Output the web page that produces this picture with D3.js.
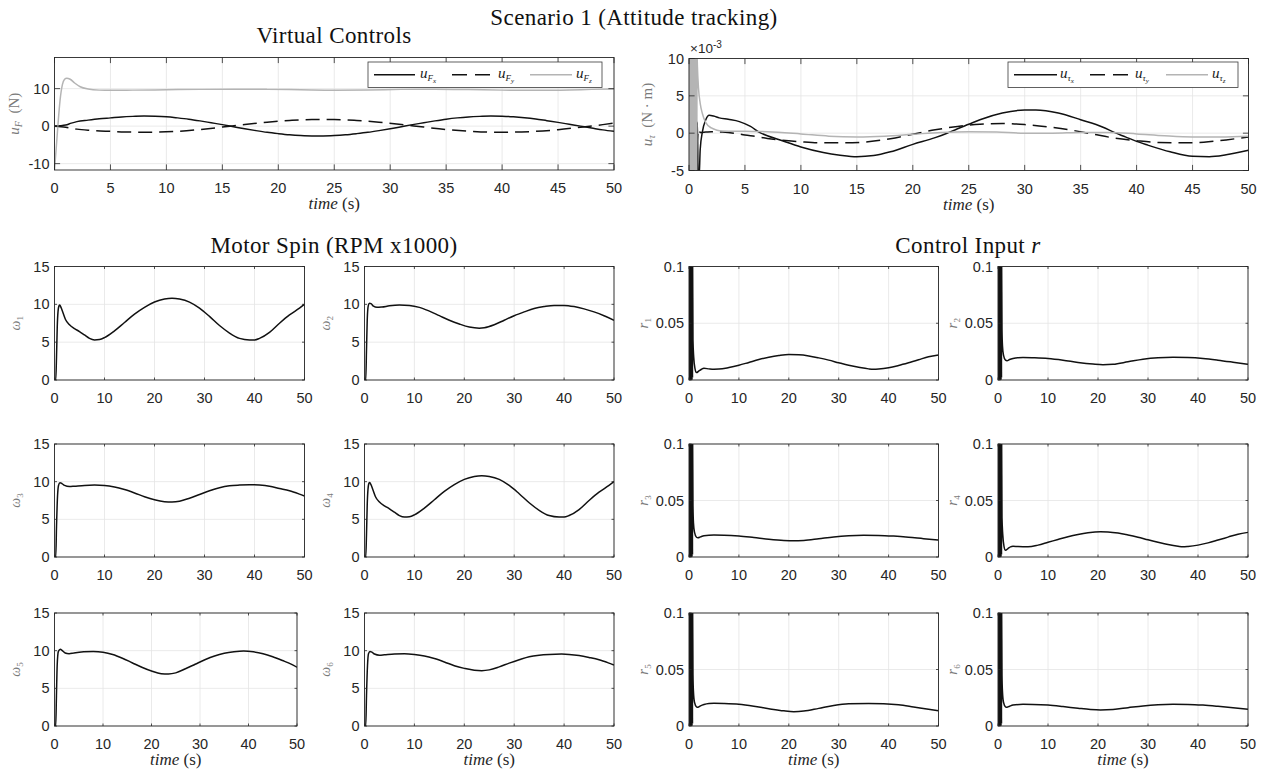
<!DOCTYPE html>
<html>
<head>
<meta charset="utf-8">
<script src="https://cdn.jsdelivr.net/npm/d3@7"></script>
<style>
  body { margin: 0; background: #fff; }
  svg { display: block; }
  text { white-space: pre; }
</style>
</head>
<body>
<svg id="fig" width="1268" height="771"></svg>
<script>
// ---------- tick values ----------
const xTicksTop = [0, 5, 10, 15, 20, 25, 30, 35, 40, 45, 50];
const xTicksSmall = [0, 10, 20, 30, 40, 50];
const yTicksForce = [-10, 0, 10];
const yTicksTorque = [-5, 0, 5, 10];
const yTicksOmega = [0, 5, 10, 15];
const yTicksR = [0, 0.05, 0.1];

// ---------- virtual force (N) ----------
const uFx = [[0,0],[0.5,0.1],[1,0.3],[1.5,0.8],[2,1.2],[3,1.6],[4,1.95],[5,2.2],[6,2.45],[7,2.6],[8,2.7],[9,2.65],[10,2.5],[11,2.2],[12,1.85],[13,1.4],[14,0.9],[15,0.4],[16,-0.15],[17,-0.7],[18,-1.2],[19,-1.65],[20,-2.0],[21,-2.3],[22,-2.5],[23,-2.6],[24,-2.6],[25,-2.5],[26,-2.3],[27,-2.0],[28,-1.65],[29,-1.2],[30,-0.7],[31,-0.15],[32,0.4],[33,0.9],[34,1.4],[35,1.85],[36,2.2],[37,2.45],[38,2.6],[39,2.7],[40,2.65],[41,2.5],[42,2.25],[43,1.9],[44,1.45],[45,1.0],[46,0.5],[47,0.0],[48,-0.5],[49,-1.0],[50,-1.4]];
const uFy = [[0,0],[1,-0.3],[2,-0.8],[3,-1.1],[5,-1.4],[7,-1.6],[9,-1.6],[11,-1.4],[13,-0.9],[15,-0.25],[17,0.45],[19,1.05],[21,1.5],[23,1.75],[25,1.75],[27,1.5],[29,1.05],[31,0.45],[33,-0.25],[35,-0.9],[37,-1.35],[39,-1.6],[41,-1.6],[43,-1.4],[45,-0.95],[47,-0.3],[49,0.4],[50,0.8]];
const uFz = [[0,-11.7],[0.15,-6],[0.3,0],[0.5,7],[0.7,11],[0.9,12.5],[1.1,12.8],[1.4,12.5],[1.8,11.5],[2.3,10.5],[3,9.9],[4,9.6],[5,9.55],[7,9.6],[10,9.7],[13,9.8],[16,9.85],[19,9.8],[22,9.7],[25,9.6],[28,9.65],[31,9.8],[34,9.85],[37,9.75],[40,9.6],[43,9.55],[46,9.65],[48,9.8],[50,9.9]];

// ---------- virtual torque (x 1e-3 N·m) ----------
const uTx = [[0.68,-6],[0.75,1.5],[0.82,-6],[0.9,-6],[1.0,-2.2],[1.2,0.2],[1.5,1.8],[1.8,2.4],[2.2,2.3],[2.7,2.05],[3.5,1.85],[4.5,1.55],[5.5,0.9],[6.3,0.1],[7,-0.35],[8,-0.85],[10,-1.85],[12,-2.6],[13.5,-2.95],[15,-3.15],[16.5,-3.0],[18,-2.5],[20,-1.5],[22,-0.6],[23,-0.05],[24,0.6],[25,1.2],[26,1.8],[28,2.7],[30,3.1],[31,3.1],[33,2.7],[35,1.8],[37,0.8],[38,0.1],[39,-0.5],[40,-1.1],[41,-1.6],[43,-2.5],[45,-3.1],[46.5,-3.15],[48,-2.9],[50,-2.3]];
const uTy = [[0.7,-2],[0.85,0.5],[1,0.1],[1.5,0.15],[2,0.2],[3,0.15],[4,0],[5,-0.25],[6,-0.45],[7,-0.7],[8,-0.9],[10,-1.15],[12,-1.3],[14,-1.3],[16,-1.15],[18,-0.75],[20,-0.15],[22,0.45],[24,0.9],[26,1.2],[28,1.3],[30,1.15],[32,0.85],[34,0.45],[36,-0.1],[38,-0.65],[40,-1.0],[42,-1.25],[44,-1.3],[46,-1.2],[48,-0.9],[50,-0.5]];
const uTzBurst = [[0,10.5],[0.03,-5.5],[0.06,10.5],[0.09,-5.5],[0.12,10.5],[0.15,-5.5],[0.18,10.5],[0.21,-5.5],[0.24,10.5],[0.27,-5.5],[0.3,10.5],[0.33,-5.5],[0.36,10.5],[0.39,-5.5],[0.42,10.5],[0.45,-5.5],[0.48,10.5],[0.51,-5.5],[0.54,10.5],[0.57,-5.5],[0.6,10.5],[0.63,-5.5],[0.66,10.5],[0.69,-5.5],[0.72,10.5]];
const uTz = [[0.75,9],[0.85,6],[1.0,4],[1.2,2.6],[1.5,1.4],[2,0.7],[2.5,0.4],[3,0.3],[5,0.25],[7,0.2],[10,-0.1],[12.5,-0.4],[15,-0.5],[17.5,-0.4],[20,-0.15],[22.5,0.1],[25,0.2],[27.5,0.15],[30,0.0],[32.5,0.0],[35,0.1],[37.5,0.1],[40,-0.1],[42.5,-0.35],[45,-0.5],[47.5,-0.5],[50,-0.4]];

// ---------- motor spin (RPM x1000) ----------
const w1 = [[0,0],[0.25,0],[0.4,3],[0.55,7],[0.7,9],[0.9,9.8],[1.05,9.9],[1.3,9.6],[1.7,8.9],[2.2,8.0],[3,7.3],[4,6.8],[5,6.4],[6,5.95],[7,5.5],[8,5.3],[9,5.35],[10,5.6],[12,6.5],[14,7.6],[16,8.7],[18,9.6],[20,10.3],[22,10.7],[23.5,10.8],[25,10.7],[27,10.3],[29,9.5],[31,8.4],[33,7.2],[35,6.2],[37,5.5],[39,5.3],[40,5.3],[41,5.5],[43,6.3],[45,7.5],[47,8.6],[49,9.5],[50,10]];
const w2 = [[0,0],[0.25,0],[0.4,4],[0.55,8],[0.75,9.8],[1.0,10.15],[1.3,10.1],[1.8,9.75],[2.5,9.6],[3.5,9.65],[5,9.8],[7,9.9],[9,9.85],[11,9.6],[13,9.1],[15,8.5],[17,7.9],[19,7.4],[21,7.0],[23,6.85],[24,6.9],[26,7.3],[28,7.9],[30,8.5],[32,9.0],[34,9.45],[36,9.7],[38,9.85],[40,9.85],[42,9.7],[44,9.4],[46,9.0],[48,8.5],[50,7.9]];
const w3 = [[0,0],[0.25,0],[0.4,4],[0.6,8],[0.8,9.5],[1.1,9.85],[1.5,9.75],[2,9.5],[3,9.35],[4,9.4],[6,9.5],[8,9.55],[10,9.5],[12,9.3],[14,8.95],[16,8.5],[18,8.0],[20,7.6],[22,7.35],[23.5,7.3],[25,7.4],[27,7.8],[29,8.3],[31,8.8],[33,9.2],[35,9.45],[37,9.55],[39,9.6],[41,9.55],[43,9.4],[45,9.1],[47,8.8],[49,8.35],[50,8.1]];
const w4 = [[0,0],[0.25,0],[0.4,3],[0.55,7],[0.7,9],[0.9,9.8],[1.05,9.9],[1.3,9.6],[1.7,8.9],[2.2,8.0],[3,7.3],[4,6.8],[5,6.4],[6,5.95],[7,5.5],[8,5.3],[9,5.35],[10,5.6],[12,6.5],[14,7.6],[16,8.7],[18,9.6],[20,10.3],[22,10.7],[23.5,10.8],[25,10.7],[27,10.3],[29,9.5],[31,8.4],[33,7.2],[35,6.2],[37,5.5],[39,5.3],[40,5.3],[41,5.5],[43,6.3],[45,7.5],[47,8.6],[49,9.5],[50,10]];
const w5 = [[0,0],[0.25,0],[0.4,4],[0.55,8],[0.8,9.9],[1.2,10.2],[1.6,10.0],[2.2,9.7],[3,9.6],[4,9.7],[6,9.85],[8,9.9],[10,9.8],[12,9.5],[14,9.0],[16,8.4],[18,7.8],[20,7.3],[22,6.95],[23.5,6.9],[25,7.05],[27,7.6],[29,8.2],[31,8.8],[33,9.3],[35,9.65],[37,9.85],[39,9.95],[41,9.85],[43,9.6],[45,9.2],[47,8.7],[49,8.15],[50,7.8]];
const w6 = [[0,0],[0.25,0],[0.4,4],[0.6,8],[0.8,9.6],[1.1,9.9],[1.5,9.8],[2,9.55],[3,9.4],[4,9.45],[6,9.55],[8,9.6],[10,9.5],[12,9.3],[14,8.95],[16,8.5],[18,8.0],[20,7.65],[22,7.4],[23.5,7.35],[25,7.45],[27,7.85],[29,8.35],[31,8.8],[33,9.2],[35,9.4],[37,9.5],[39.5,9.55],[41,9.5],[43,9.35],[45,9.1],[47,8.8],[49,8.35],[50,8.1]];

// ---------- control input r ----------
const rBurst = [[0,0],[0.05,0.12],[0.1,0],[0.15,0.12],[0.2,0],[0.25,0.12],[0.3,0],[0.35,0.12],[0.4,0],[0.45,0.12],[0.5,0],[0.55,0.12],[0.6,0],[0.65,0.12],[0.7,0.002],[0.72,0.11]];
const r1 = [[0.8,0.035],[0.95,0.02],[1.2,0.01],[1.5,0.0065],[2,0.008],[2.5,0.0095],[3,0.0103],[4,0.0098],[5,0.0095],[6,0.0096],[8,0.011],[10,0.013],[12,0.0155],[14,0.018],[16,0.02],[18,0.0215],[20,0.0224],[22,0.0222],[24,0.0212],[26,0.0195],[28,0.0175],[30,0.0152],[32,0.013],[34,0.0112],[36,0.0098],[37,0.0095],[38,0.0097],[40,0.0108],[42,0.0128],[44,0.0152],[46,0.0178],[48,0.0205],[50,0.022]];
const r2 = [[0.8,0.045],[0.9,0.03],[1.1,0.022],[1.5,0.0175],[1.8,0.017],[2.3,0.018],[3,0.019],[4,0.0197],[5,0.0198],[7,0.0196],[10,0.019],[13,0.0175],[16,0.0155],[19,0.014],[21,0.0134],[23,0.0138],[26,0.016],[29,0.0183],[32,0.0196],[35,0.02],[38,0.0198],[41,0.019],[44,0.0175],[47,0.0157],[50,0.0138]];
const r3 = [[0.8,0.045],[0.9,0.03],[1.1,0.022],[1.5,0.0175],[1.8,0.017],[2.3,0.0178],[3,0.0188],[5,0.0194],[7,0.0193],[10,0.0186],[13,0.0172],[16,0.0157],[19,0.0146],[21,0.0143],[23,0.0147],[26,0.0162],[29,0.0178],[32,0.0188],[35,0.0192],[38,0.0191],[41,0.0185],[44,0.0175],[47,0.0162],[50,0.015]];
const r4 = [[0.8,0.035],[0.95,0.02],[1.2,0.0095],[1.5,0.006],[2,0.0075],[2.5,0.009],[3,0.0095],[4,0.0092],[6,0.009],[8,0.0105],[10,0.013],[12,0.0155],[14,0.018],[16,0.02],[18,0.0215],[20.5,0.0224],[22,0.0222],[24,0.0212],[26,0.0195],[28,0.0175],[30,0.0152],[32,0.013],[34,0.011],[36,0.0095],[37,0.009],[38,0.0093],[40,0.0105],[42,0.0125],[44,0.015],[46,0.0176],[48,0.0202],[50,0.0218]];
const r5 = [[0.8,0.045],[0.9,0.03],[1.1,0.021],[1.5,0.017],[1.8,0.0166],[2.3,0.0178],[3,0.019],[4,0.0199],[5,0.0201],[7,0.0199],[10,0.0192],[13,0.0175],[16,0.0153],[19,0.0134],[21,0.0127],[23,0.0132],[26,0.0156],[29,0.0181],[32,0.0196],[36,0.02],[39,0.0197],[42,0.0187],[45,0.0168],[48,0.0148],[50,0.0136]];
const r6 = [[0.8,0.045],[0.9,0.03],[1.1,0.021],[1.5,0.017],[1.8,0.0166],[2.3,0.0175],[3,0.0186],[5,0.0192],[7,0.0191],[10,0.0185],[13,0.0172],[16,0.0157],[18.5,0.0146],[20.5,0.0142],[23,0.0146],[26,0.0162],[29,0.0178],[32,0.0188],[35,0.0192],[38,0.0191],[41,0.0185],[44,0.0174],[47,0.0161],[50,0.0148]];

// ---------- styling ----------
const SANS = "'Liberation Sans', Arial, Helvetica, sans-serif";
const SERIF = "'Liberation Serif', 'Times New Roman', serif";
const AX = '#262626';
const GRID = '#e4e4e4';
const LABEL_GRAY = '#7a7a7a';
const GRAY_LINE = '#b4b4b4';

const svg = d3.select('#fig');
const defs = svg.append('defs');
let clipCount = 0;

// write a run of styled pieces (italic / sub / superscript) into a <text>
function rich(textSel, parts, base) {
  let cur = 0;
  parts.forEach(p => {
    const off = p.off || 0;
    textSel.append('tspan')
      .attr('dy', off - cur)
      .attr('font-size', p.size || base)
      .attr('font-style', p.it ? 'italic' : 'normal')
      .text(p.t);
    cur = off;
  });
}

function fmtTick(v) {
  return String(v).replace('\u2212', '-');
}

function panel(box, cfg) {
  const g = svg.append('g');
  const x = d3.scaleLinear().domain(cfg.xDom).range([box.x0, box.x1]);
  const y = d3.scaleLinear().domain(cfg.yDom).range([box.y1, box.y0]);
  const tickLen = cfg.tickLen;

  // grid
  g.append('g').selectAll('line').data(cfg.xTicks).join('line')
    .attr('x1', d => x(d)).attr('x2', d => x(d))
    .attr('y1', box.y0).attr('y2', box.y1)
    .attr('stroke', GRID).attr('stroke-width', 0.8);
  g.append('g').selectAll('line').data(cfg.yTicks).join('line')
    .attr('y1', d => y(d)).attr('y2', d => y(d))
    .attr('x1', box.x0).attr('x2', box.x1)
    .attr('stroke', GRID).attr('stroke-width', 0.8);

  // series
  const id = 'clip' + (clipCount++);
  defs.append('clipPath').attr('id', id).append('rect')
    .attr('x', box.x0).attr('y', box.y0)
    .attr('width', box.x1 - box.x0).attr('height', box.y1 - box.y0);
  const line = d3.line().x(d => x(d[0])).y(d => y(d[1])).curve(d3.curveMonotoneX);
  const sg = g.append('g').attr('clip-path', `url(#${id})`);
  cfg.series.forEach(s => {
    sg.append('path').attr('d', line(s.data))
      .attr('fill', 'none')
      .attr('stroke', s.color || '#111')
      .attr('stroke-width', s.width || 1.5)
      .attr('stroke-dasharray', s.dash || null)
      .attr('stroke-linejoin', 'round');
  });

  // ticks on all four sides (inward)
  const tk = g.append('g').attr('stroke', AX).attr('stroke-width', 0.8);
  cfg.xTicks.forEach(v => {
    tk.append('line').attr('x1', x(v)).attr('x2', x(v)).attr('y1', box.y1).attr('y2', box.y1 - tickLen);
    tk.append('line').attr('x1', x(v)).attr('x2', x(v)).attr('y1', box.y0).attr('y2', box.y0 + tickLen);
  });
  cfg.yTicks.forEach(v => {
    tk.append('line').attr('y1', y(v)).attr('y2', y(v)).attr('x1', box.x0).attr('x2', box.x0 + tickLen);
    tk.append('line').attr('y1', y(v)).attr('y2', y(v)).attr('x1', box.x1).attr('x2', box.x1 - tickLen);
  });

  // frame
  g.append('rect').attr('x', box.x0).attr('y', box.y0)
    .attr('width', box.x1 - box.x0).attr('height', box.y1 - box.y0)
    .attr('fill', 'none').attr('stroke', AX).attr('stroke-width', 0.9);

  // tick labels
  g.append('g').selectAll('text').data(cfg.xTicks).join('text')
    .attr('x', d => x(d)).attr('y', box.y1 + 23)
    .attr('text-anchor', 'middle')
    .attr('font-family', SANS).attr('font-size', 14.5).attr('fill', AX)
    .text(d => fmtTick(d));
  g.append('g').selectAll('text').data(cfg.yTicks).join('text')
    .attr('x', box.x0 - 5).attr('y', d => y(d) + 5)
    .attr('text-anchor', 'end')
    .attr('font-family', SANS).attr('font-size', 14.5).attr('fill', AX)
    .text(d => cfg.yFmt ? cfg.yFmt(d) : fmtTick(d));

  // y label
  if (cfg.yLabel) {
    const cy = (box.y0 + box.y1) / 2;
    const lx = box.x0 - cfg.yLabelOff;
    const t = g.append('text')
      .attr('transform', `translate(${lx},${cy}) rotate(-90)`)
      .attr('text-anchor', 'middle')
      .attr('font-family', SERIF).attr('fill', LABEL_GRAY);
    rich(t, cfg.yLabel, 15);
  }

  // x label
  if (cfg.xLabel) {
    const t = g.append('text')
      .attr('x', (box.x0 + box.x1) / 2).attr('y', box.y1 + 39)
      .attr('text-anchor', 'middle')
      .attr('font-family', SERIF).attr('fill', AX);
    rich(t, [{ t: 'time', it: true }, { t: ' (s)' }], 17);
  }
  return { x, y, g };
}

function legend(box, items) {
  const g = svg.append('g');
  g.append('rect').attr('x', box.x0).attr('y', box.y0)
    .attr('width', box.x1 - box.x0).attr('height', box.y1 - box.y0)
    .attr('fill', '#fff').attr('stroke', '#3a3a3a').attr('stroke-width', 0.8);
  const cy = (box.y0 + box.y1) / 2;
  items.forEach(it => {
    g.append('line').attr('x1', it.lx0).attr('x2', it.lx1).attr('y1', cy).attr('y2', cy)
      .attr('stroke', it.color).attr('stroke-width', 1.6)
      .attr('stroke-dasharray', it.dash || null);
    const t = g.append('text').attr('x', it.tx).attr('y', cy + 3)
      .attr('font-family', SERIF).attr('fill', '#1a1a1a');
    rich(t, it.label, 15);
  });
}

// ---------- titles ----------
function title(x, y, parts) {
  const t = svg.append('text').attr('x', x).attr('y', y)
    .attr('text-anchor', 'middle').attr('font-family', SERIF).attr('fill', '#111')
    .attr('letter-spacing', 0.4);
  rich(t, parts, 23);
}
title(634, 25, [{ t: 'Scenario 1 (Attitude tracking)' }]);
title(334, 43, [{ t: 'Virtual Controls' }]);
title(334, 253, [{ t: 'Motor Spin (RPM x1000)' }]);
title(968, 253, [{ t: 'Control Input ' }, { t: 'r', it: true }]);

// ---------- virtual controls ----------
const boxF = { x0: 54.5, x1: 614, y0: 57.5, y1: 170 };
panel(boxF, {
  xDom: [0, 50], yDom: [-11.7, 18.3],
  xTicks: xTicksTop, yTicks: yTicksForce, tickLen: 5.6,
  yLabel: [{ t: 'u', it: true }, { t: 'F', it: true, size: 10, off: 3 }, { t: '  (N)', off: 0 }],
  yLabelOff: 36, xLabel: true,
  series: [
    { data: uFx, color: '#111' },
    { data: uFy, color: '#111', dash: '14,7' },
    { data: uFz, color: GRAY_LINE }
  ]
});
legend({ x0: 368, x1: 602, y0: 62, y1: 87.5 }, [
  { lx0: 374, lx1: 415, color: '#111', tx: 420, label: [{ t: 'u', it: true }, { t: 'F', it: true, size: 9, off: 3 }, { t: 'x', it: true, size: 7, off: 5 }] },
  { lx0: 452, lx1: 490, color: '#111', dash: '15,8', tx: 498, label: [{ t: 'u', it: true }, { t: 'F', it: true, size: 9, off: 3 }, { t: 'y', it: true, size: 7, off: 5 }] },
  { lx0: 530, lx1: 572, color: GRAY_LINE, tx: 576, label: [{ t: 'u', it: true }, { t: 'F', it: true, size: 9, off: 3 }, { t: 'z', it: true, size: 7, off: 5 }] }
]);

const boxT = { x0: 689, x1: 1248.5, y0: 58.5, y1: 170.5 };
panel(boxT, {
  xDom: [0, 50], yDom: [-5, 10],
  xTicks: xTicksTop, yTicks: yTicksTorque, tickLen: 5.6,
  yLabel: [{ t: 'u', it: true }, { t: 'τ', it: true, size: 10, off: 3 }, { t: '  (N · m)', off: 0 }],
  yLabelOff: 37, xLabel: true,
  series: [
    { data: uTx, color: '#111' },
    { data: uTy, color: '#111', dash: '14,7' },
    { data: uTzBurst.concat(uTz), color: GRAY_LINE }
  ]
});
// axis exponent
{
  const t = svg.append('text').attr('x', 690).attr('y', 53)
    .attr('font-family', SANS).attr('fill', AX);
  rich(t, [{ t: '×10' }, { t: '-3', size: 10, off: -5 }], 13.5);
}
legend({ x0: 1008, x1: 1238, y0: 62, y1: 87.5 }, [
  { lx0: 1014, lx1: 1057, color: '#111', tx: 1060, label: [{ t: 'u', it: true }, { t: 'τ', it: true, size: 9, off: 3 }, { t: 'x', it: true, size: 7, off: 5 }] },
  { lx0: 1090, lx1: 1128, color: '#111', dash: '15,8', tx: 1135, label: [{ t: 'u', it: true }, { t: 'τ', it: true, size: 9, off: 3 }, { t: 'y', it: true, size: 7, off: 5 }] },
  { lx0: 1166, lx1: 1208, color: GRAY_LINE, tx: 1212, label: [{ t: 'u', it: true }, { t: 'τ', it: true, size: 9, off: 3 }, { t: 'z', it: true, size: 7, off: 5 }] }
]);

// ---------- motor spin and control input grids ----------
const rows = [[266.5, 380], [444, 557], [613, 726]];
const omegaSeries = [w1, w2, w3, w4, w5, w6];
const rSeries = [r1, r2, r3, r4, r5, r6];
const omegaCols = [[54.5, 304.5], [364.5, 614]];
const rCols = [[689, 938.5], [998, 1248]];

omegaSeries.forEach((data, i) => {
  const row = Math.floor(i / 2), col = i % 2;
  let [x0, x1] = omegaCols[col];
  if (i === 4) x1 = 297;
  const [y0, y1] = rows[row];
  panel({ x0, x1, y0, y1 }, {
    xDom: [0, 50], yDom: [0, 15],
    xTicks: xTicksSmall, yTicks: yTicksOmega, tickLen: 2.5,
    yLabel: [{ t: 'ω', it: true, size: 14 }, { t: String(i + 1), size: 9, off: 3 }],
    yLabelOff: 35, xLabel: row === 2,
    series: [{ data, color: '#111' }]
  });
});

rSeries.forEach((data, i) => {
  const row = Math.floor(i / 2), col = i % 2;
  const [x0, x1] = rCols[col];
  const [y0, y1] = rows[row];
  panel({ x0, x1, y0, y1 }, {
    xDom: [0, 50], yDom: [0, 0.1],
    xTicks: xTicksSmall, yTicks: yTicksR, tickLen: 2.5,
    yFmt: d => (d === 0 ? '0' : String(d)),
    yLabel: [{ t: 'r', it: true, size: 15 }, { t: String(i + 1), size: 9, off: 3 }],
    yLabelOff: 41, xLabel: row === 2,
    series: [{ data: rBurst.concat(data), color: '#111' }]
  });
});
</script>
</body>
</html>
